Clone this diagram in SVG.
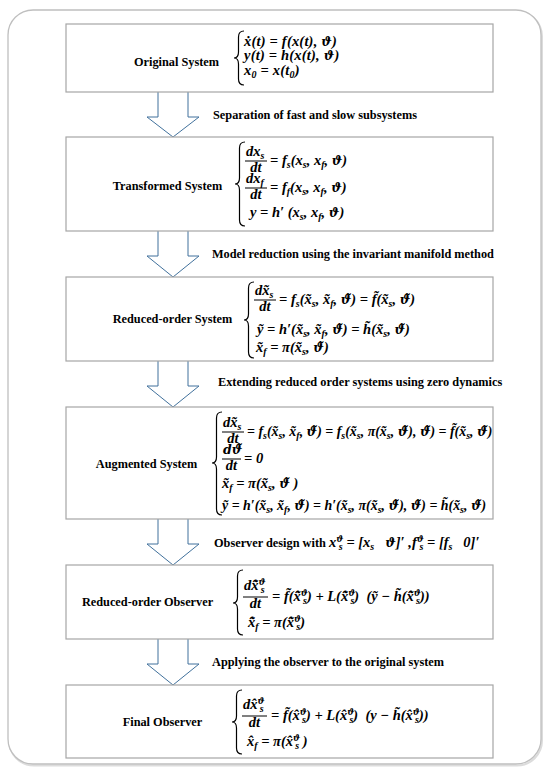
<svg xmlns="http://www.w3.org/2000/svg" width="550" height="776" viewBox="0 0 550 776">
<style>
.box{fill:#fff;stroke:#a6a6a6;stroke-width:1.2}
.t{font-family:"Liberation Serif","Times New Roman",serif;font-weight:bold;font-size:12.3px;fill:#000}
.m{font-family:"Liberation Serif","Times New Roman",serif;font-style:italic;font-weight:bold;font-size:14.5px;fill:#000}
.m2{font-size:13.9px}
.b{font-size:10px}
.d{font-family:"DejaVu Serif",serif;font-size:12.5px}
.db{font-family:"DejaVu Serif",serif;font-size:8.5px}
.ls{letter-spacing:0.2px}
.br{fill:none;stroke:#000;stroke-width:1.2}
.bar{stroke:#000;stroke-width:1}
.arr{fill:#fff;stroke:#41719c;stroke-width:1}
</style>
<rect x="9" y="11.5" width="533" height="754" rx="25" fill="none" stroke="#dcdcdc" stroke-width="2"/>
<rect x="8" y="10" width="533" height="754" rx="25" fill="#fff" stroke="#bfbfbf" stroke-width="1.3"/>

<g id="connectors">
<path class="arr" d="M158 92V117H147L173 137L199 117H188V92"/>
<path class="arr" d="M158 231V256H147L173 277L199 256H188V231"/>
<path class="arr" d="M158 361V386H147L173 407L199 386H188V361"/>
<path class="arr" d="M158 519V544H147L173 565L199 544H188V519"/>
<path class="arr" d="M158 639V664H147L173 685L199 664H188V639"/>
<text class="t" x="213" y="119">Separation of fast and slow subsystems</text>
<text class="t" x="212" y="258">Model reduction using the invariant manifold method</text>
<text class="t" x="218" y="386">Extending reduced order systems using zero dynamics</text>
<text class="t" x="214" y="547" xml:space="preserve">Observer design with <tspan class="m" font-size="12.5">x<tspan class="db" font-size="8" dy="-5">ϑ</tspan><tspan class="b" font-size="9" dx="-4.5" dy="8">s</tspan><tspan dy="-3"> = [x</tspan><tspan class="b" font-size="9" dy="3">s</tspan><tspan dy="-3">   </tspan><tspan class="d" font-size="10.5">ϑ</tspan>]′ ,f<tspan class="db" font-size="8" dy="-5">ϑ</tspan><tspan class="b" font-size="9" dx="-4.5" dy="8">s</tspan><tspan dy="-3"> = [f</tspan><tspan class="b" font-size="9" dy="3">s</tspan><tspan dy="-3">   0]′</tspan></tspan></text>
<text class="t" x="212" y="666">Applying the observer to the original system</text>
</g>

<g id="n1">
<rect class="box" x="66" y="24" width="427" height="68"/>
<text class="t" x="176.5" y="66" text-anchor="middle">Original System</text>
<path class="br" d="M244 31Q238.5 31 238.5 37V52Q238.5 58 234 58Q238.5 58 238.5 64V79Q238.5 85 244 85"/>
<text class="m ls" x="244" y="46">ẋ(t) = f(x(t), <tspan class="d">ϑ</tspan>)</text>
<text class="m ls" x="244" y="60">y(t) = h(x(t), <tspan class="d">ϑ</tspan>)</text>
<text class="m ls" x="244" y="75">x<tspan class="b" dy="3">0</tspan><tspan dy="-3"> = x(t</tspan><tspan class="b" dy="3">0</tspan><tspan dy="-3">)</tspan></text>
</g>

<g id="n2">
<rect class="box" x="66" y="137" width="427" height="94"/>
<text class="t" x="167.5" y="190" text-anchor="middle">Transformed  System</text>
<path class="br" d="M245 142Q239.5 142 239.5 148V178Q239.5 184 235 184Q239.5 184 239.5 190V220Q239.5 226 245 226"/>
<text class="m" x="246" y="155.5">dx<tspan class="b" dy="3">s</tspan></text>
<line class="bar" x1="245" y1="161" x2="267" y2="161"/>
<text class="m" x="256" y="172" text-anchor="middle">dt</text>
<text class="m" x="270" y="165">= f<tspan class="b" dy="3">s</tspan><tspan dy="-3">(x</tspan><tspan class="b" dy="3">s</tspan><tspan dy="-3">, x</tspan><tspan class="b" dy="3">f</tspan><tspan dy="-3">, </tspan><tspan class="d">ϑ</tspan>)</text>
<text class="m" x="246" y="182.5">dx<tspan class="b" dy="3">f</tspan></text>
<line class="bar" x1="245" y1="188" x2="267" y2="188"/>
<text class="m" x="256" y="199" text-anchor="middle">dt</text>
<text class="m" x="270" y="192">= f<tspan class="b" dy="3">f</tspan><tspan dy="-3">(x</tspan><tspan class="b" dy="3">s</tspan><tspan dy="-3">, x</tspan><tspan class="b" dy="3">f</tspan><tspan dy="-3">, </tspan><tspan class="d">ϑ</tspan>)</text>
<text class="m" x="250" y="217">y = h′ (x<tspan class="b" dy="3">s</tspan><tspan dy="-3">, x</tspan><tspan class="b" dy="3">f</tspan><tspan dy="-3">, </tspan><tspan class="d">ϑ</tspan>)</text>
</g>

<g id="n3">
<rect class="box" x="66" y="277" width="427" height="84"/>
<text class="t" x="172.5" y="323" text-anchor="middle">Reduced-order System</text>
<path class="br" d="M254 282Q248.5 282 248.5 288V314Q248.5 320 244 320Q248.5 320 248.5 326V352Q248.5 358 254 358"/>
<text class="m" x="255" y="294.5">dx&#x303;<tspan class="b" dy="3">s</tspan></text>
<line class="bar" x1="254" y1="300" x2="276" y2="300"/>
<text class="m" x="265" y="311" text-anchor="middle">dt</text>
<text class="m" x="279" y="304">= f<tspan class="b" dy="3">s</tspan><tspan dy="-3">(x&#x303;</tspan><tspan class="b" dy="3">s</tspan><tspan dy="-3">, x&#x303;</tspan><tspan class="b" dy="3">f</tspan><tspan dy="-3">, </tspan><tspan class="d">ϑ&#x303;</tspan>) = f&#x303;(x&#x303;<tspan class="b" dy="3">s</tspan><tspan dy="-3">, </tspan><tspan class="d">ϑ&#x303;</tspan>)</text>
<text class="m" x="257" y="334">ỹ = h′(x&#x303;<tspan class="b" dy="3">s</tspan><tspan dy="-3">, x&#x303;</tspan><tspan class="b" dy="3">f</tspan><tspan dy="-3">, </tspan><tspan class="d">ϑ&#x303;</tspan>) = h&#x303;(x&#x303;<tspan class="b" dy="3">s</tspan><tspan dy="-3">, </tspan><tspan class="d">ϑ&#x303;</tspan>)</text>
<text class="m" x="256" y="352">x&#x303;<tspan class="b" dy="3">f</tspan><tspan dy="-3"> = π(x&#x303;</tspan><tspan class="b" dy="3">s</tspan><tspan dy="-3">, </tspan><tspan class="d">ϑ&#x303;</tspan>)</text>
</g>

<g id="n4">
<rect class="box" x="66" y="407" width="427" height="112"/>
<text class="t" x="146.5" y="468" text-anchor="middle">Augmented System</text>
<path class="br" d="M222 412Q216.5 412 216.5 418V457Q216.5 463 212 463Q216.5 463 216.5 469V509Q216.5 515 222 515"/>
<text class="m" x="223" y="426.5">dx&#x303;<tspan class="b" dy="3">s</tspan></text>
<line class="bar" x1="222" y1="432" x2="244" y2="432"/>
<text class="m" x="233" y="443" text-anchor="middle">dt</text>
<text class="m m2" x="247" y="436">= f<tspan class="b" dy="3">s</tspan><tspan dy="-3">(x&#x303;</tspan><tspan class="b" dy="3">s</tspan><tspan dy="-3">, x&#x303;</tspan><tspan class="b" dy="3">f</tspan><tspan dy="-3">, </tspan><tspan class="d">ϑ&#x303;</tspan>) = f<tspan class="b" dy="3">s</tspan><tspan dy="-3">(x&#x303;</tspan><tspan class="b" dy="3">s</tspan><tspan dy="-3">, π(x&#x303;</tspan><tspan class="b" dy="3">s</tspan><tspan dy="-3">, </tspan><tspan class="d">ϑ&#x303;</tspan>), <tspan class="d">ϑ&#x303;</tspan>) = f&#x303;(x&#x303;<tspan class="b" dy="3">s</tspan><tspan dy="-3">, </tspan><tspan class="d">ϑ&#x303;</tspan>)</text>
<text class="m" x="223" y="454"><tspan class="d">dϑ&#x303;</tspan></text>
<line class="bar" x1="222" y1="459" x2="241" y2="459"/>
<text class="m" x="231.5" y="470" text-anchor="middle">dt</text>
<text class="m" x="244" y="463">= 0</text>
<text class="m" x="222" y="488">x&#x303;<tspan class="b" dy="3">f</tspan><tspan dy="-3"> = π(x&#x303;</tspan><tspan class="b" dy="3">s</tspan><tspan dy="-3">, </tspan><tspan class="d">ϑ&#x303;</tspan> )</text>
<text class="m m2" x="222" y="510">ỹ = h′(x&#x303;<tspan class="b" dy="3">s</tspan><tspan dy="-3">, x&#x303;</tspan><tspan class="b" dy="3">f</tspan><tspan dy="-3">, </tspan><tspan class="d">ϑ&#x303;</tspan>) = h′(x&#x303;<tspan class="b" dy="3">s</tspan><tspan dy="-3">, π(x&#x303;</tspan><tspan class="b" dy="3">s</tspan><tspan dy="-3">, </tspan><tspan class="d">ϑ&#x303;</tspan>), <tspan class="d">ϑ&#x303;</tspan>) = h&#x303;(x&#x303;<tspan class="b" dy="3">s</tspan><tspan dy="-3">, </tspan><tspan class="d">ϑ&#x303;</tspan>)</text>
</g>

<g id="n5">
<rect class="box" x="66" y="565" width="427" height="74"/>
<text class="t" x="147.5" y="606" text-anchor="middle">Reduced-order Observer</text>
<path class="br" d="M243 570Q237.5 570 237.5 576V597Q237.5 603 233 603Q237.5 603 237.5 609V629Q237.5 635 243 635"/>
<text class="m" x="244" y="590">dx&#x302;&#x303;<tspan class="db" dy="-5">ϑ</tspan><tspan class="b" dx="-5" dy="8">s</tspan></text>
<line class="bar" x1="243" y1="597" x2="268" y2="597"/>
<text class="m" x="255.5" y="608" text-anchor="middle">dt</text>
<text class="m" x="272" y="601" xml:space="preserve">= f&#x303;(x&#x302;&#x303;<tspan class="db" dy="-5">ϑ</tspan><tspan class="b" dx="-5" dy="8">s</tspan><tspan dy="-3">) + L(x&#x302;&#x303;</tspan><tspan class="db" dy="-5">ϑ</tspan><tspan class="b" dx="-5" dy="8">s</tspan><tspan dy="-3">)  (ỹ − h&#x303;(x&#x302;&#x303;</tspan><tspan class="db" dy="-5">ϑ</tspan><tspan class="b" dx="-5" dy="8">s</tspan><tspan dy="-3">))</tspan></text>
<text class="m" x="248" y="627">x&#x302;&#x303;<tspan class="b" dy="3">f</tspan><tspan dy="-3"> = π(x&#x302;&#x303;</tspan><tspan class="db" dy="-5">ϑ</tspan><tspan class="b" dx="-5" dy="8">s</tspan><tspan dy="-3">)</tspan></text>
</g>

<g id="n6">
<rect class="box" x="66" y="685" width="427" height="73"/>
<text class="t" x="162.5" y="726" text-anchor="middle">Final Observer</text>
<path class="br" d="M242 690Q236.5 690 236.5 696V716Q236.5 722 232 722Q236.5 722 236.5 728V748Q236.5 754 242 754"/>
<text class="m" x="243" y="709">dx&#x302;<tspan class="db" dy="-5">ϑ</tspan><tspan class="b" dx="-5" dy="8">s</tspan></text>
<line class="bar" x1="242" y1="716" x2="267" y2="716"/>
<text class="m" x="254.5" y="727" text-anchor="middle">dt</text>
<text class="m" x="271" y="720" xml:space="preserve">= f&#x303;(x&#x302;<tspan class="db" dy="-5">ϑ</tspan><tspan class="b" dx="-5" dy="8">s</tspan><tspan dy="-3">) + L(x&#x302;</tspan><tspan class="db" dy="-5">ϑ</tspan><tspan class="b" dx="-5" dy="8">s</tspan><tspan dy="-3">)  (y − h&#x303;(x&#x302;</tspan><tspan class="db" dy="-5">ϑ</tspan><tspan class="b" dx="-5" dy="8">s</tspan><tspan dy="-3">))</tspan></text>
<text class="m" x="247" y="746">x&#x302;<tspan class="b" dy="3">f</tspan><tspan dy="-3"> = π(x&#x302;</tspan><tspan class="db" dy="-5">ϑ</tspan><tspan class="b" dx="-5" dy="8">s</tspan><tspan dy="-3"> )</tspan></text>
</g>
</svg>
